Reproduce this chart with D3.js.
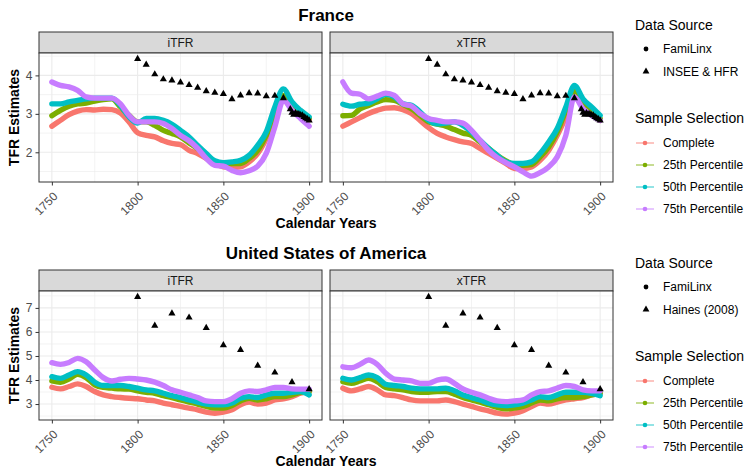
<!DOCTYPE html>
<html>
<head>
<meta charset="utf-8">
<script src="https://cdn.jsdelivr.net/npm/d3@7"></script>
<style>
  body { margin: 0; background: #fff; }
  text { font-family: "Liberation Sans", Arial, sans-serif; }
</style>
</head>
<body>
<svg id="chart" width="746" height="469"></svg>
<script>
// years for the FamiLinx series (5-year readings)
var years = [1750,1755,1760,1765,1770,1775,1780,1785,1790,1795,1800,1805,1810,1815,1820,1825,
             1830,1835,1840,1845,1850,1855,1860,1865,1870,1875,1880,1885,1890,1895,1900];
var selections = ['Complete', '25th Percentile', '50th Percentile', '75th Percentile'];
var facets = ['iTFR', 'xTFR'];

// France, iTFR
var frItfrComplete = [2.68,2.83,2.98,3.07,3.11,3.10,3.12,3.11,3.02,2.79,2.51,2.44,2.40,2.30,2.23,2.20,
                      2.05,1.97,1.84,1.71,1.62,1.60,1.62,1.75,1.97,2.36,2.88,3.35,3.13,2.96,2.85];
var frItfrP25 = [2.95,3.09,3.20,3.26,3.28,3.33,3.37,3.39,3.18,2.96,2.79,2.79,2.70,2.57,2.49,2.40,
                 2.24,2.10,1.92,1.75,1.71,1.71,1.71,1.84,2.05,2.44,2.96,3.48,3.22,3.02,2.88];
var frItfrP50 = [3.26,3.26,3.31,3.35,3.39,3.41,3.41,3.41,3.22,2.92,2.76,2.88,2.88,2.83,2.73,2.57,
                 2.40,2.18,1.97,1.78,1.73,1.75,1.79,1.92,2.18,2.53,3.18,3.65,3.31,3.09,2.92];
var frItfrP75 = [3.83,3.74,3.70,3.61,3.44,3.41,3.41,3.41,3.26,2.96,2.79,2.79,2.79,2.75,2.62,2.44,
                 2.30,2.10,1.84,1.66,1.64,1.53,1.47,1.52,1.64,1.97,2.66,3.35,3.09,2.88,2.68];
// France, xTFR
var frXtfrComplete = [2.68,2.79,2.90,3.01,3.09,3.15,3.16,3.11,3.01,2.83,2.64,2.49,2.40,2.33,2.27,2.23,
                      2.10,1.97,1.84,1.71,1.58,1.58,1.62,1.79,2.05,2.44,2.92,3.44,3.18,2.99,2.83];
var frXtfrP25 = [2.95,2.96,3.13,3.22,3.31,3.37,3.35,3.25,3.13,2.96,2.79,2.73,2.68,2.59,2.50,2.44,
                 2.27,2.10,1.92,1.78,1.68,1.66,1.68,1.88,2.14,2.53,3.09,3.61,3.31,3.09,2.88];
var frXtfrP50 = [3.25,3.20,3.25,3.28,3.39,3.51,3.44,3.26,3.22,3.05,2.83,2.74,2.76,2.79,2.70,2.53,
                 2.31,2.10,1.92,1.75,1.71,1.71,1.75,1.97,2.27,2.62,3.18,3.74,3.39,3.18,2.96];
var frXtfrP75 = [3.83,3.54,3.51,3.39,3.46,3.54,3.48,3.26,3.20,3.01,2.88,2.83,2.79,2.79,2.76,2.57,
                 2.31,2.05,1.86,1.73,1.62,1.49,1.38,1.47,1.62,1.88,2.44,3.44,3.13,2.96,2.83];
// France, INSEE & HFR
var frRefYears = [1800,1805,1810,1815,1820,1825,1830,1835,1840,1845,1850,1855,1860,1865,1870,1875,1880,1885,
                  1889,1890,1891,1892,1893,1894,1895,1896,1897,1898,1899,1900];
var frRefValues = [4.43,4.28,4.03,3.90,3.87,3.82,3.75,3.68,3.59,3.55,3.52,3.38,3.48,3.54,3.53,3.46,3.47,3.41,
                   3.12,3.03,2.98,3.02,2.99,2.99,2.97,2.96,2.92,2.89,2.86,2.83];

// United States, iTFR
var usItfrComplete = [3.70,3.63,3.73,3.84,3.73,3.52,3.38,3.31,3.27,3.24,3.22,3.17,3.13,3.04,2.97,2.90,
                      2.83,2.76,2.66,2.62,2.66,2.76,2.97,3.08,3.00,3.04,3.17,3.22,3.31,3.45,3.52];
var usItfrP25 = [3.96,3.91,4.04,4.24,4.10,3.80,3.69,3.66,3.63,3.62,3.55,3.49,3.45,3.35,3.27,3.17,
                 3.08,3.00,2.90,2.83,2.83,2.94,3.13,3.24,3.17,3.22,3.31,3.31,3.38,3.49,3.52];
var usItfrP50 = [4.14,4.07,4.21,4.35,4.21,3.91,3.77,3.77,3.77,3.73,3.66,3.59,3.55,3.45,3.35,3.27,
                 3.17,3.08,3.00,2.97,2.97,3.04,3.24,3.31,3.27,3.38,3.45,3.45,3.49,3.52,3.38];
var usItfrP75 = [4.72,4.65,4.73,4.90,4.76,4.42,4.10,3.96,4.03,4.07,4.04,4.00,3.91,3.77,3.59,3.49,
                 3.38,3.27,3.13,3.10,3.10,3.22,3.45,3.55,3.52,3.59,3.69,3.69,3.63,3.62,3.62];
// United States, xTFR
var usXtfrComplete = [3.66,3.55,3.63,3.73,3.59,3.38,3.35,3.27,3.17,3.13,3.13,3.13,3.17,3.10,3.00,2.90,
                      2.80,2.72,2.62,2.58,2.62,2.72,2.90,3.04,3.00,3.08,3.17,3.22,3.27,3.38,3.45];
var usXtfrP25 = [3.93,3.86,3.96,4.07,3.93,3.69,3.63,3.59,3.52,3.49,3.49,3.52,3.52,3.41,3.27,3.17,
                 3.08,2.97,2.86,2.80,2.83,2.90,3.04,3.17,3.13,3.22,3.27,3.27,3.31,3.38,3.45];
var usXtfrP50 = [4.07,4.00,4.10,4.21,4.10,3.82,3.77,3.73,3.66,3.63,3.63,3.63,3.66,3.55,3.38,3.27,
                 3.17,3.04,2.97,2.94,2.97,3.04,3.17,3.31,3.27,3.38,3.49,3.49,3.49,3.45,3.35];
var usXtfrP75 = [4.55,4.51,4.65,4.83,4.65,4.28,4.04,4.00,3.96,3.86,3.86,4.00,4.04,3.86,3.63,3.49,
                 3.38,3.24,3.13,3.10,3.13,3.17,3.38,3.52,3.55,3.66,3.77,3.73,3.59,3.55,3.55];
// United States, Haines (2008)
var usRefYears = [1800,1810,1820,1830,1840,1850,1860,1870,1880,1890,1900];
var usRefValues = [7.46,6.26,6.77,6.60,6.17,5.45,5.25,4.60,4.31,3.91,3.62];

var colors = ['#F8766D', '#7CAE00', '#00BFC4', '#C77CFF'];

var svg = d3.select('#chart');
var panelX = [[39, 322], [330, 613]];

// top = top of the facet strips
function drawFigure(top, title, refLabel, series, refYears, refValues) {
    var g = svg.append('g').attr('transform', 'translate(0,' + top + ')');
    var plotTop = 21, plotBottom = 150;

    var all = refValues.slice();
    series.forEach(function(f){ f.forEach(function(s){ all = all.concat(s); }); });
    var yExt = d3.extent(all), yPad = (yExt[1] - yExt[0]) * 0.05;
    var xExt = d3.extent(years), xPad = (xExt[1] - xExt[0]) * 0.05;

    var y = d3.scaleLinear().domain([yExt[0] - yPad, yExt[1] + yPad]).range([plotBottom, plotTop]);
    var yMajor = y.ticks(5).filter(function(t){ return t % 1 === 0; });
    var yMinor = yMajor.map(function(t){ return t - 0.5; }).concat([yMajor[yMajor.length - 1] + 0.5])
        .filter(function(t){ return t > y.domain()[0] && t < y.domain()[1]; });

    g.append('text').attr('x', 326).attr('y', -11)
        .attr('text-anchor', 'middle').style('font-size', '17px').style('font-weight', 'bold')
        .attr('fill', '#000').text(title);

    facets.forEach(function(name, fi){
        var x = d3.scaleLinear().domain([xExt[0] - xPad, xExt[1] + xPad]).range(panelX[fi]);
        var p = g.append('g');
        var w = panelX[fi][1] - panelX[fi][0];

        // strip
        p.append('rect').attr('x', panelX[fi][0]).attr('y', 0).attr('width', w).attr('height', plotTop)
            .attr('fill', '#D9D9D9').attr('stroke', '#333').attr('stroke-width', 1);
        p.append('text').attr('x', panelX[fi][0] + w / 2).attr('y', plotTop / 2 + 4)
            .attr('text-anchor', 'middle').style('font-size', '12px').attr('fill', '#1A1A1A').text(name);

        p.append('rect').attr('x', panelX[fi][0]).attr('y', plotTop).attr('width', w)
            .attr('height', plotBottom - plotTop).attr('fill', '#fff');

        // grid
        var xMajor = [1750, 1800, 1850, 1900], xMinor = [1775, 1825, 1875];
        p.selectAll('.gxm').data(xMinor).enter().append('line')
            .attr('x1', x).attr('x2', x).attr('y1', plotTop).attr('y2', plotBottom)
            .attr('stroke', '#EBEBEB').attr('stroke-width', 0.6);
        p.selectAll('.gym').data(yMinor).enter().append('line')
            .attr('x1', panelX[fi][0]).attr('x2', panelX[fi][1]).attr('y1', y).attr('y2', y)
            .attr('stroke', '#EBEBEB').attr('stroke-width', 0.6);
        p.selectAll('.gx').data(xMajor).enter().append('line')
            .attr('x1', x).attr('x2', x).attr('y1', plotTop).attr('y2', plotBottom)
            .attr('stroke', '#EBEBEB').attr('stroke-width', 1.1);
        p.selectAll('.gy').data(yMajor).enter().append('line')
            .attr('x1', panelX[fi][0]).attr('x2', panelX[fi][1]).attr('y1', y).attr('y2', y)
            .attr('stroke', '#EBEBEB').attr('stroke-width', 1.1);

        // series
        var line = d3.line()
            .x(function(d, i){ return x(years[i]); })
            .y(function(d){ return y(d); })
            .curve(d3.curveMonotoneX);
        series[fi].forEach(function(vals, si){
            p.append('path').datum(vals).attr('d', line)
                .attr('fill', 'none').attr('stroke', colors[si])
                .attr('stroke-width', 5.4).attr('stroke-linecap', 'round').attr('stroke-linejoin', 'round');
        });

        // reference triangles
        var tri = d3.symbol().type(d3.symbolTriangle).size(22);
        p.selectAll('.tri').data(refValues).enter().append('path')
            .attr('d', tri)
            .attr('transform', function(d, i){ return 'translate(' + x(refYears[i]) + ',' + y(d) + ')'; })
            .attr('fill', '#000');

        // border
        p.append('rect').attr('x', panelX[fi][0]).attr('y', plotTop).attr('width', w)
            .attr('height', plotBottom - plotTop).attr('fill', 'none').attr('stroke', '#333').attr('stroke-width', 1);

        // x axis
        var xa = p.append('g').attr('transform', 'translate(0,' + plotBottom + ')')
            .call(d3.axisBottom(x).tickValues(xMajor).tickFormat(d3.format('d')).tickSize(3.5).tickSizeOuter(0));
        xa.select('.domain').remove();
        xa.selectAll('line').attr('stroke', '#333');
        xa.selectAll('text')
            .attr('text-anchor', 'end').attr('dy', null).attr('y', 0)
            .attr('transform', 'translate(6,15) rotate(-45)')
            .style('font-size', '12px').style('font-family', '"Liberation Sans", Arial, sans-serif')
            .attr('fill', '#4D4D4D');

        if (fi === 0) {
            var ya = p.append('g').attr('transform', 'translate(' + panelX[0][0] + ',0)')
                .call(d3.axisLeft(y).tickValues(yMajor).tickFormat(d3.format('d')).tickSize(3.5).tickSizeOuter(0));
            ya.select('.domain').remove();
            ya.selectAll('line').attr('stroke', '#333');
            ya.selectAll('text').style('font-size', '12px')
                .style('font-family', '"Liberation Sans", Arial, sans-serif').attr('fill', '#4D4D4D');
        }
    });

    g.append('text').attr('transform', 'translate(19,' + ((plotTop + plotBottom) / 2) + ') rotate(-90)')
        .attr('text-anchor', 'middle').style('font-size', '14px').style('font-weight', 'bold')
        .text('TFR Estimates');
    g.append('text').attr('x', 326).attr('y', 196)
        .attr('text-anchor', 'middle').style('font-size', '14px').style('font-weight', 'bold')
        .text('Calendar Years');

    // legends
    var lg = g.append('g');
    lg.append('text').attr('x', 635).attr('y', -2.5).style('font-size', '14px').attr('fill', '#000').text('Data Source');
    lg.append('circle').attr('cx', 646).attr('cy', 17).attr('r', 2.4).attr('fill', '#000');
    lg.append('text').attr('x', 663).attr('y', 21).style('font-size', '12px').text('FamiLinx');
    lg.append('path').attr('d', d3.symbol().type(d3.symbolTriangle).size(20))
        .attr('transform', 'translate(646,39.5)').attr('fill', '#000');
    lg.append('text').attr('x', 663).attr('y', 43.5).style('font-size', '12px').text(refLabel);

    lg.append('text').attr('x', 635).attr('y', 90.5).style('font-size', '14px').text('Sample Selection');
    selections.forEach(function(s, i){
        var cy = 111 + i * 22;
        lg.append('line').attr('x1', 636).attr('x2', 654).attr('y1', cy).attr('y2', cy)
            .attr('stroke', colors[i]).attr('stroke-width', 1.2).attr('opacity', 0.7);
        lg.append('circle').attr('cx', 645).attr('cy', cy).attr('r', 2.3).attr('fill', colors[i]);
        lg.append('text').attr('x', 663).attr('y', cy + 4).style('font-size', '12px').text(s);
    });
}

drawFigure(32, 'France', 'INSEE & HFR',
    [[frItfrComplete, frItfrP25, frItfrP50, frItfrP75], [frXtfrComplete, frXtfrP25, frXtfrP50, frXtfrP75]],
    frRefYears, frRefValues);
drawFigure(270, 'United States of America', 'Haines (2008)',
    [[usItfrComplete, usItfrP25, usItfrP50, usItfrP75], [usXtfrComplete, usXtfrP25, usXtfrP50, usXtfrP75]],
    usRefYears, usRefValues);
</script>
</body>
</html>
